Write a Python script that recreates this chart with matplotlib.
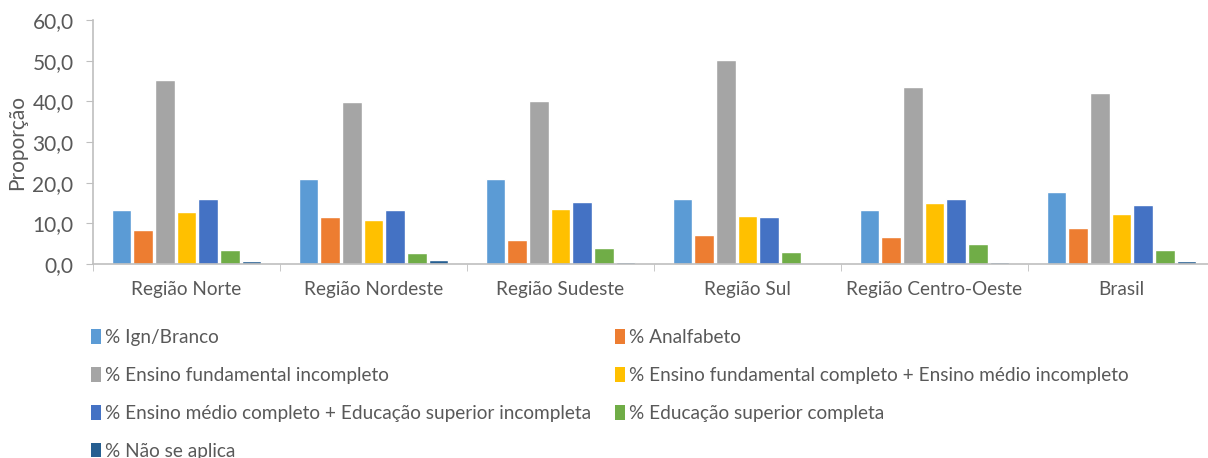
import numpy as np
import matplotlib.pyplot as plt
from matplotlib.patches import Patch

plt.rcParams['font.family'] = ['Lato', 'DejaVu Sans']

regioes = ["Região Norte", "Região Nordeste", "Região Sudeste", "Região Sul",
           "Região Centro-Oeste", "Brasil"]
series = ["% Ign/Branco", "% Analfabeto", "% Ensino fundamental incompleto",
          "% Ensino fundamental completo + Ensino médio incompleto",
          "% Ensino médio completo + Educação superior incompleta",
          "% Educação superior completa", "% Não se aplica"]

ign_branco = [13.4, 20.8, 20.8, 15.9, 13.2, 17.6]
analfabeto = [8.4, 11.6, 6.0, 7.2, 6.6, 8.9]
fund_incompleto = [45.2, 39.9, 40.1, 50.1, 43.6, 42.0]
fund_completo = [12.8, 10.7, 13.5, 11.9, 14.9, 12.4]
medio_completo = [15.9, 13.2, 15.2, 11.5, 15.9, 14.4]
superior_completo = [3.4, 2.8, 3.9, 3.0, 5.0, 3.5]
nao_se_aplica = [0.7, 1.1, 0.5, 0.1, 0.4, 0.7]

valores = [ign_branco, analfabeto, fund_incompleto, fund_completo,
           medio_completo, superior_completo, nao_se_aplica]
cores = ["#5B9BD5", "#ED7D31", "#A5A5A5", "#FFC000", "#4472C4", "#70AD47", "#255E91"]

texto = "#595959"
linha = "#BFBFBF"
fs = 13.7

fig = plt.figure(figsize=(12.08, 4.58), dpi=100)
ax = fig.add_axes([93 / 1208, (458 - 264) / 458, (1215 - 93) / 1208, 244 / 458])

x = np.arange(len(regioes))
passo = 0.116
largura = 0.104
for i, (vals, cor) in enumerate(zip(valores, cores)):
    ax.bar(x + (i - 3) * passo, vals, width=largura, color=cor,
           edgecolor="white", linewidth=1.0, label=series[i])

ax.set_xlim(-0.5, len(regioes) - 0.5)
ax.set_ylim(0, 60)
ax.set_yticks(np.arange(0, 61, 10))
ax.set_yticklabels([f"{v:.1f}".replace(".", ",") for v in np.arange(0, 61, 10)])
ax.set_xticks(x)
ax.set_xticklabels(regioes)
ax.set_xticks(np.arange(-0.5, len(regioes), 1), minor=True)
ax.tick_params(axis="x", which="major", length=0, pad=12, labelsize=fs, labelcolor=texto)
ax.tick_params(axis="x", which="minor", length=5, color=linha, direction="out")
ax.tick_params(axis="y", length=5, color=linha, labelsize=15, labelcolor=texto, pad=9)
ax.set_ylabel("Proporção", fontsize=15, color=texto, labelpad=4)

for s in ["top", "right"]:
    ax.spines[s].set_visible(False)
for s in ["left", "bottom"]:
    ax.spines[s].set_color(linha)
    ax.spines[s].set_linewidth(1.2)

# legenda em duas colunas, preenchida por linhas
ordem = [0, 2, 4, 6, 1, 3, 5]
handles = [Patch(facecolor=cores[i], label=series[i]) for i in ordem]
leg = fig.legend(handles=handles, loc="upper left", ncol=2,
                 bbox_to_anchor=(91 / 1208, 1 - 329 / 458), frameon=False,
                 fontsize=fs, handlelength=0.5, handleheight=0.8,
                 handletextpad=0.25, columnspacing=1.25, labelspacing=1.1,
                 borderaxespad=0, borderpad=0)
for t in leg.get_texts():
    t.set_color(texto)

fig.savefig("out.png", dpi=100)
